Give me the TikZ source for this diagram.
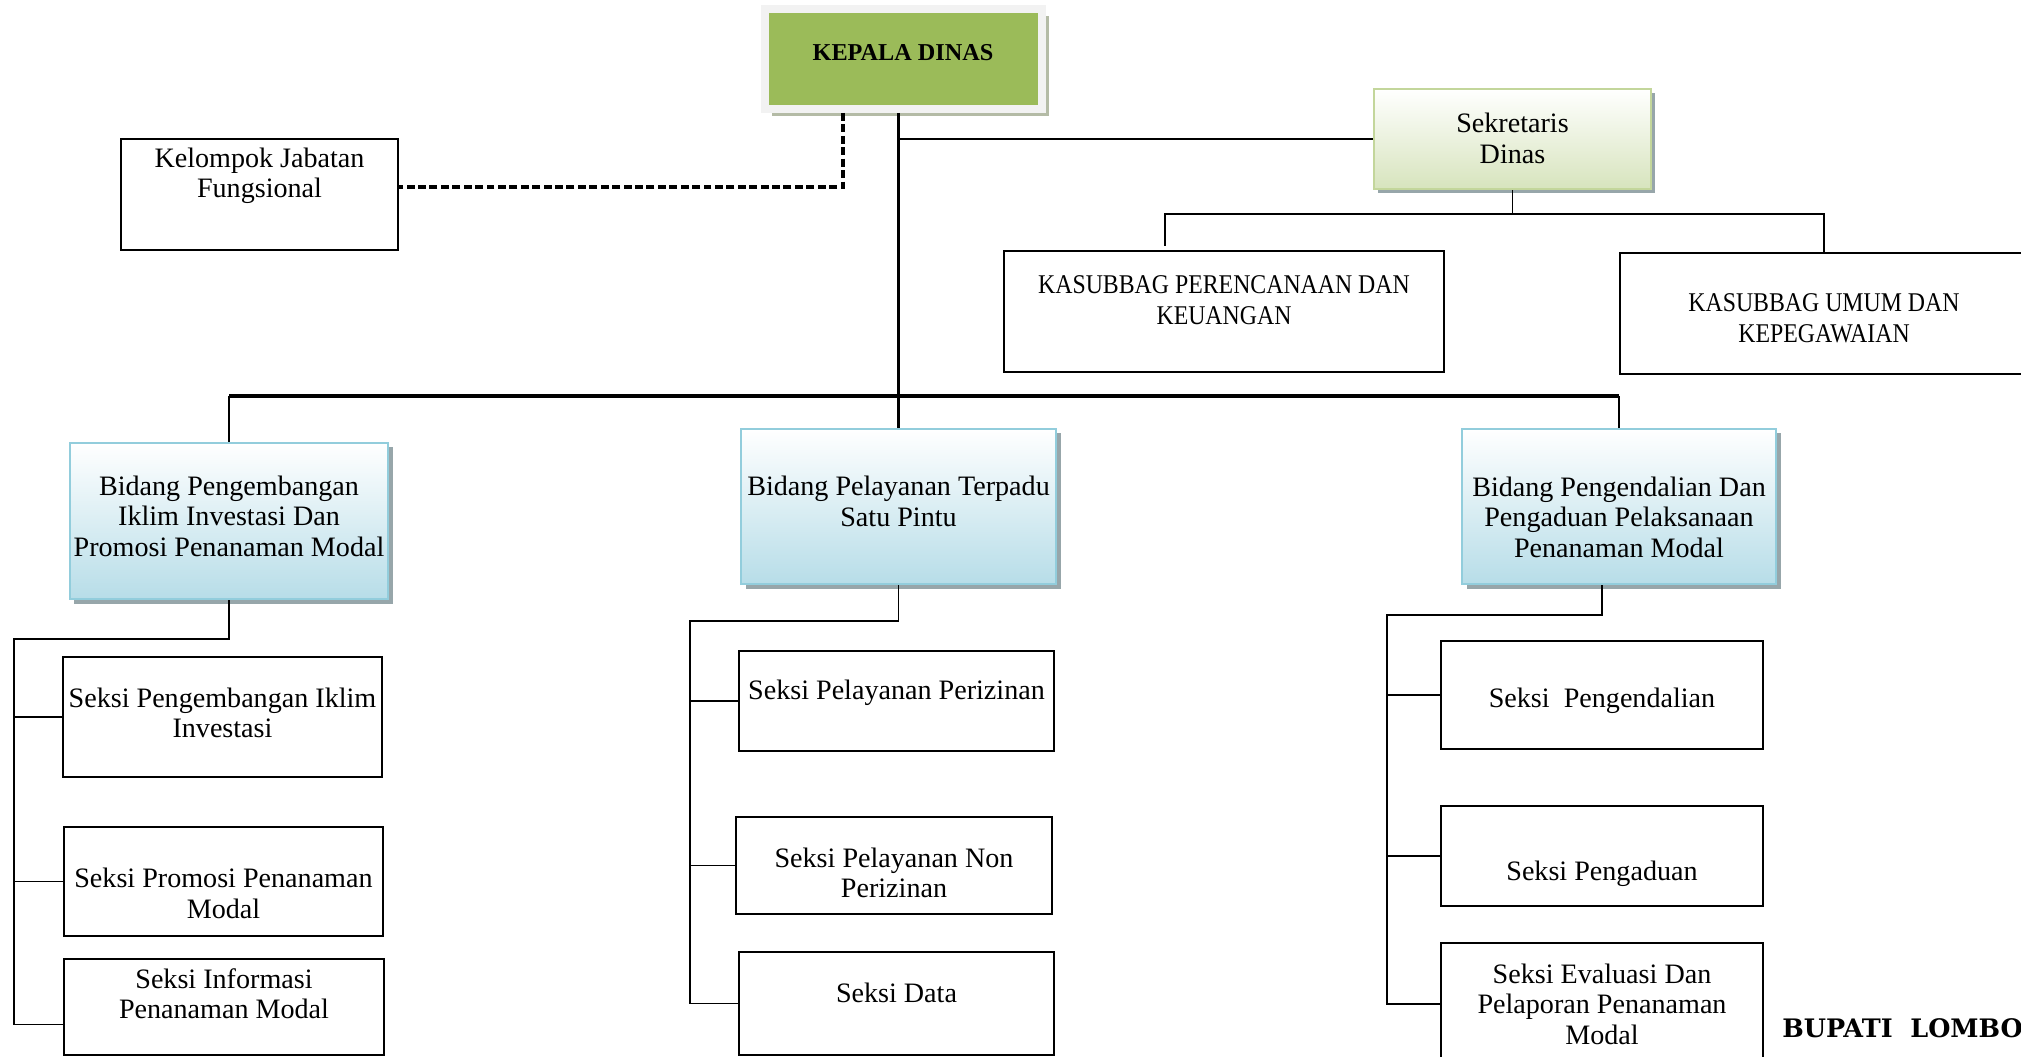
\documentclass[tikz,border=0pt]{standalone}
\usepackage{fontspec}
\setmainfont{Liberation Serif}
\newfontfamily\bupatifont{DejaVu Serif}
\newfontfamily\narrowserif[FakeStretch=0.88]{Liberation Serif}
\usetikzlibrary{shadows,calc}
\definecolor{kdgreen}{HTML}{9BBB59}
\definecolor{kdframe}{HTML}{F2F2F2}
\definecolor{kdshadow}{HTML}{B4BBA6}
\definecolor{sekfill}{HTML}{D7E4BD}
\definecolor{sekline}{HTML}{C3D69B}
\definecolor{bidfill}{HTML}{B7DDE8}
\definecolor{bidline}{HTML}{92CDDC}
\definecolor{boxshadow}{HTML}{97A6AA}
\newcommand{\boxtext}[2]{\raisebox{#1}[\height][\depth]{\begin{tabular}{@{}c@{}}#2\end{tabular}}}
\tikzset{
  wh/.style 2 args={minimum width=#1*0.02cm, minimum height=#2*0.02cm},
  plainbox/.style={draw=black, line width=1pt, align=center, inner sep=1pt,
    font=\fontsize{16}{17.4}\selectfont},
  kasubbox/.style={plainbox, font=\narrowserif\fontsize{15.4}{18}\selectfont},
  bidbox/.style={plainbox, draw=bidline, line width=1.2pt, top color=white, bottom color=bidfill,
    drop shadow={shadow xshift=0.09cm, shadow yshift=-0.09cm, fill=boxshadow, opacity=1}},
  sekbox/.style={plainbox, draw=sekline, line width=1.2pt, top color=white, bottom color=sekfill,
    drop shadow={shadow xshift=0.08cm, shadow yshift=-0.08cm, fill=boxshadow, opacity=1}},
  kdbox/.style={fill=kdgreen, draw=kdframe, line width=0.16cm, inner sep=1pt,
    font=\fontsize{13.8}{15}\selectfont\bfseries,
    drop shadow={shadow xshift=0.14cm, shadow yshift=-0.14cm, fill=kdshadow, opacity=1}},
  conn/.style={line width=1pt},
  trunk/.style={line width=1.6pt},
  bus/.style={line width=2.4pt},
  dashline/.style={line width=1.8pt, dash pattern=on 4.5pt off 2pt},
}
\begin{document}
\begin{tikzpicture}[x=0.02cm,y=-0.02cm]
  \useasboundingbox (0,0) rectangle (2021,1057);
  \clip (0,0) rectangle (2021,1057);

  \node[kdbox, wh={277}{100}] (kd) at (903,59) {\boxtext{2.2pt}{KEPALA DINAS}};
  \node[sekbox, wh={277}{100}] (sek) at (1512.5,139) {\boxtext{-1.5pt}{Sekretaris\\Dinas}};
  \node[plainbox, wh={277}{111}] (kjf) at (259.5,194.5) {\boxtext{10.3pt}{Kelompok Jabatan\\Fungsional}};
  \node[kasubbox, wh={440}{121}] (kpk) at (1224,311.5) {\boxtext{5pt}{KASUBBAG PERENCANAAN DAN\\KEUANGAN}};
  \node[kasubbox, wh={408}{121}] (kum) at (1824,313.5) {\boxtext{-4.1pt}{KASUBBAG UMUM DAN\\KEPEGAWAIAN}};

  \node[bidbox, wh={318}{156}] (b1) at (229,521) {\boxtext{0.8pt}{Bidang Pengembangan\\Iklim Investasi Dan\\Promosi Penanaman Modal}};
  \node[bidbox, wh={315}{155}] (b2) at (898.5,506.5) {\boxtext{0.8pt}{Bidang Pelayanan Terpadu\\Satu Pintu}};
  \node[bidbox, wh={314}{155}] (b3) at (1619,506.5) {\boxtext{-8.1pt}{Bidang Pengendalian Dan\\Pengaduan Pelaksanaan\\Penanaman Modal}};

  \node[plainbox, wh={319}{120}] (s11) at (222.5,717) {\boxtext{0.4pt}{Seksi Pengembangan Iklim\\Investasi}};
  \node[plainbox, wh={319}{109}] (s12) at (223.5,881.5) {\boxtext{-8.7pt}{Seksi Promosi Penanaman\\Modal}};
  \node[plainbox, wh={320}{96}] (s13) at (224,1007) {\boxtext{5.4pt}{Seksi Informasi\\Penanaman Modal}};
  \node[plainbox, wh={315}{100}] (s21) at (896.5,701) {\boxtext{4.1pt}{Seksi Pelayanan Perizinan}};
  \node[plainbox, wh={316}{97}] (s22) at (894,865.5) {\boxtext{-6.2pt}{Seksi Pelayanan Non\\Perizinan}};
  \node[plainbox, wh={315}{103}] (s23) at (896.5,1003.5) {\boxtext{4.1pt}{Seksi Data}};
  \node[plainbox, wh={322}{108}] (s31) at (1602,695) {\boxtext{-3.8pt}{Seksi\ \ Pengendalian}};
  \node[plainbox, wh={322}{100}] (s32) at (1602,856) {\boxtext{-10.7pt}{Seksi Pengaduan}};
  \node[plainbox, wh={322}{122}] (s33) at (1602,1004) {Seksi Evaluasi Dan\\Pelaporan Penanaman\\Modal};

  \node[anchor=base west, inner sep=0, font=\bupatifont\bfseries\fontsize{14.5}{16}\selectfont] (bup) at (1782,1037) {BUPATI\ \ LOMBOK};

  \coordinate (bus) at (0,396);
  \coordinate (dl) at (843,187);
  \coordinate (sj) at (0,214);
  \coordinate (kpkin) at (1165,246);
  \coordinate (sp1) at (14,639);
  \coordinate (sp2) at (690,621);
  \coordinate (sp3) at (1387,615);

  \draw[trunk] (kd.south -| b2.north) -- (b2.north);
  \draw[trunk] (sek.west) -| (b2.north);
  \draw[dashline] (kd.south -| dl) -- (dl) -- (kjf.east |- dl);
  \draw[bus] (b1.north |- bus) -- (b3.north |- bus);
  \draw[conn] (b1.north |- bus) -- (b1.north);
  \draw[trunk] (b3.north |- bus) -- (b3.north);
  \draw[conn] (sek.south) -- (sek.south |- sj);
  \draw[conn] (kpkin) |- (kum.north |- sj) -- (kum.north);

  \draw[conn] (b1.south) |- (sp1) |- ($(s13.north west)!.68!(s13.south west)$);
  \draw[conn] (sp1 |- s11.west) -- (s11.west);
  \draw[conn] (sp1 |- s12.west) -- (s12.west);

  \draw[conn] (b2.south) |- (sp2) |- (s23.west);
  \draw[conn] (sp2 |- s21.west) -- (s21.west);
  \draw[conn] (sp2 |- s22.west) -- (s22.west);

  \draw[conn] (b3.south -| s31.north) |- (sp3) |- (s33.west);
  \draw[conn] (sp3 |- s31.west) -- (s31.west);
  \draw[conn] (sp3 |- s32.west) -- (s32.west);
\end{tikzpicture}
\end{document}
